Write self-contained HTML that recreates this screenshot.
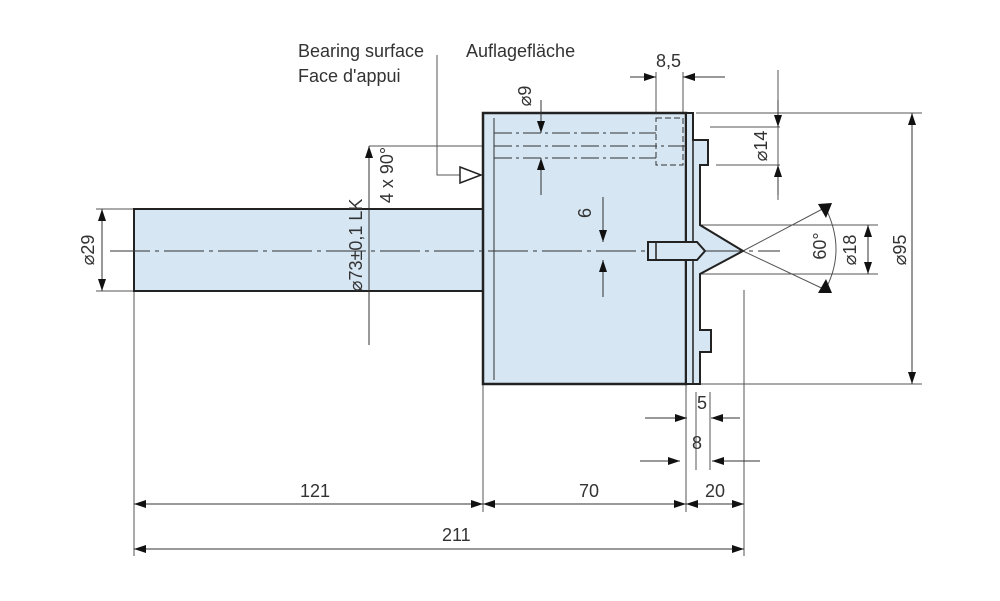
<!DOCTYPE html>
<html><head><meta charset="utf-8"><style>
html,body{margin:0;padding:0;background:#fff;}
svg{display:block}
text{font-family:"Liberation Sans Narrow","Liberation Sans",sans-serif;font-size:18px;fill:#333;}
</style></head><body>
<svg width="1000" height="601" viewBox="0 0 1000 601" xmlns="http://www.w3.org/2000/svg">
<defs>
<marker id="a" viewBox="0 0 12 8" refX="12" refY="4" markerWidth="12" markerHeight="8" markerUnits="userSpaceOnUse" orient="auto-start-reverse">
<path d="M0,0 L12,4 L0,8 z" fill="#111"/></marker>
</defs>
<g stroke="#555" stroke-width="1" fill="none">
<line x1="134" y1="291" x2="134" y2="556"/>
<line x1="483" y1="384" x2="483" y2="512"/>
<line x1="686" y1="384" x2="686" y2="512"/>
<line x1="696" y1="392" x2="696" y2="470"/>
<line x1="710" y1="392" x2="710" y2="470"/>
<line x1="744" y1="290" x2="744" y2="556"/>
<line x1="696" y1="113" x2="922" y2="113"/>
<line x1="696" y1="384" x2="922" y2="384"/>
<line x1="710" y1="127" x2="780" y2="127"/>
<line x1="716" y1="165" x2="780" y2="165"/>
<line x1="700" y1="225" x2="878" y2="225"/>
<line x1="700" y1="274" x2="878" y2="274"/>
<line x1="656" y1="72" x2="656" y2="118"/>
<line x1="683" y1="72" x2="683" y2="113"/>
<line x1="778" y1="70" x2="778" y2="200"/>
<line x1="96" y1="209" x2="134" y2="209"/>
<line x1="96" y1="291" x2="134" y2="291"/>
<line x1="369" y1="146" x2="483" y2="146"/>
<line x1="743" y1="251" x2="830" y2="205"/>
<line x1="743" y1="251" x2="830" y2="292"/>
<path d="M824,205 Q848,250 824,292"/>
<path d="M437,55 V175 H460"/>
</g>
<rect x="134" y="209" width="349" height="82" fill="#d6e6f3" stroke="#222" stroke-width="2"/>
<rect x="483" y="113" width="203" height="271" fill="#d6e6f3" stroke="#222" stroke-width="2.5"/>
<path d="M686,113 H693 V140 H708 V165 H700 V225 L743,251 L700,274 V330 H711 V352 H700 V384 H686 z" fill="#d6e6f3" stroke="#222" stroke-width="2"/>
<line x1="693" y1="113" x2="693" y2="384" stroke="#222" stroke-width="1.5"/>
<g stroke="#333" stroke-width="1" fill="none">
<line x1="494" y1="118" x2="494" y2="380"/>
<rect x="656" y="118" width="27" height="47" stroke-dasharray="6 3"/>
<line x1="494" y1="133" x2="656" y2="133" stroke-dasharray="18 4 3 4"/>
<line x1="494" y1="146" x2="690" y2="146" stroke-dasharray="18 4 3 4"/>
<line x1="494" y1="158" x2="656" y2="158" stroke-dasharray="18 4 3 4"/>
<line x1="110" y1="251" x2="780" y2="251" stroke-dasharray="40 5 4 5"/>
</g>
<path d="M648,242 H697 L705,251 L697,260 H648 z" fill="#d6e6f3" stroke="#222" stroke-width="2"/>
<line x1="656" y1="242" x2="656" y2="260" stroke="#222" stroke-width="1.5"/>
<path d="M460,167 L481,175 L460,183 z" fill="#fff" stroke="#222" stroke-width="1.5"/>
<g stroke="#333" stroke-width="1" fill="none">
<line x1="134" y1="504" x2="483" y2="504" marker-start="url(#a)" marker-end="url(#a)"/>
<line x1="483" y1="504" x2="686" y2="504" marker-start="url(#a)" marker-end="url(#a)"/>
<line x1="686" y1="504" x2="744" y2="504" marker-start="url(#a)" marker-end="url(#a)"/>
<line x1="134" y1="549" x2="744" y2="549" marker-start="url(#a)" marker-end="url(#a)"/>
<line x1="645" y1="418" x2="687" y2="418" marker-end="url(#a)"/>
<line x1="740" y1="418" x2="711" y2="418" marker-end="url(#a)"/>
<line x1="640" y1="461" x2="680" y2="461" marker-end="url(#a)"/>
<line x1="760" y1="461" x2="712" y2="461" marker-end="url(#a)"/>
<line x1="630" y1="77" x2="656" y2="77" marker-end="url(#a)"/>
<line x1="725" y1="77" x2="683" y2="77" marker-end="url(#a)"/>
<line x1="912" y1="113" x2="912" y2="384" marker-start="url(#a)" marker-end="url(#a)"/>
<line x1="868" y1="225" x2="868" y2="274" marker-start="url(#a)" marker-end="url(#a)"/>
<line x1="778" y1="100" x2="778" y2="127" marker-end="url(#a)"/>
<line x1="778" y1="195" x2="778" y2="165" marker-end="url(#a)"/>
<line x1="102" y1="209" x2="102" y2="291" marker-start="url(#a)" marker-end="url(#a)"/>
<line x1="541" y1="100" x2="541" y2="133" marker-end="url(#a)"/>
<line x1="541" y1="195" x2="541" y2="158" marker-end="url(#a)"/>
<line x1="603" y1="197" x2="603" y2="242" marker-end="url(#a)"/>
<line x1="603" y1="297" x2="603" y2="260" marker-end="url(#a)"/>
<line x1="369" y1="345" x2="369" y2="146" marker-end="url(#a)"/>
</g>
<path d="M818,204 L832,203 L826,218 z" fill="#111"/>
<path d="M818,293 L832,293 L826,279 z" fill="#111"/>
<text x="298" y="57">Bearing surface</text>
<text x="298" y="82">Face d'appui</text>
<text x="466" y="57">Auflagefläche</text>
<text x="656" y="67">8,5</text>
<text x="300" y="497">121</text>
<text x="579" y="497">70</text>
<text x="705" y="497">20</text>
<text x="442" y="541">211</text>
<text x="697" y="409">5</text>
<text x="692" y="449">8</text>
<g>
<text transform="translate(94,250) rotate(-90)" text-anchor="middle">⌀29</text>
<text transform="translate(362,245) rotate(-90)" text-anchor="middle">⌀73±0,1 LK</text>
<text transform="translate(393,175) rotate(-90)" text-anchor="middle">4 x 90°</text>
<text transform="translate(531,96) rotate(-90)" text-anchor="middle">⌀9</text>
<text transform="translate(591,213) rotate(-90)" text-anchor="middle">6</text>
<text transform="translate(767,146) rotate(-90)" text-anchor="middle">⌀14</text>
<text transform="translate(826,246) rotate(-90)" text-anchor="middle">60°</text>
<text transform="translate(856,250) rotate(-90)" text-anchor="middle">⌀18</text>
<text transform="translate(906,250) rotate(-90)" text-anchor="middle">⌀95</text>
</g>
</svg>
</body></html>
